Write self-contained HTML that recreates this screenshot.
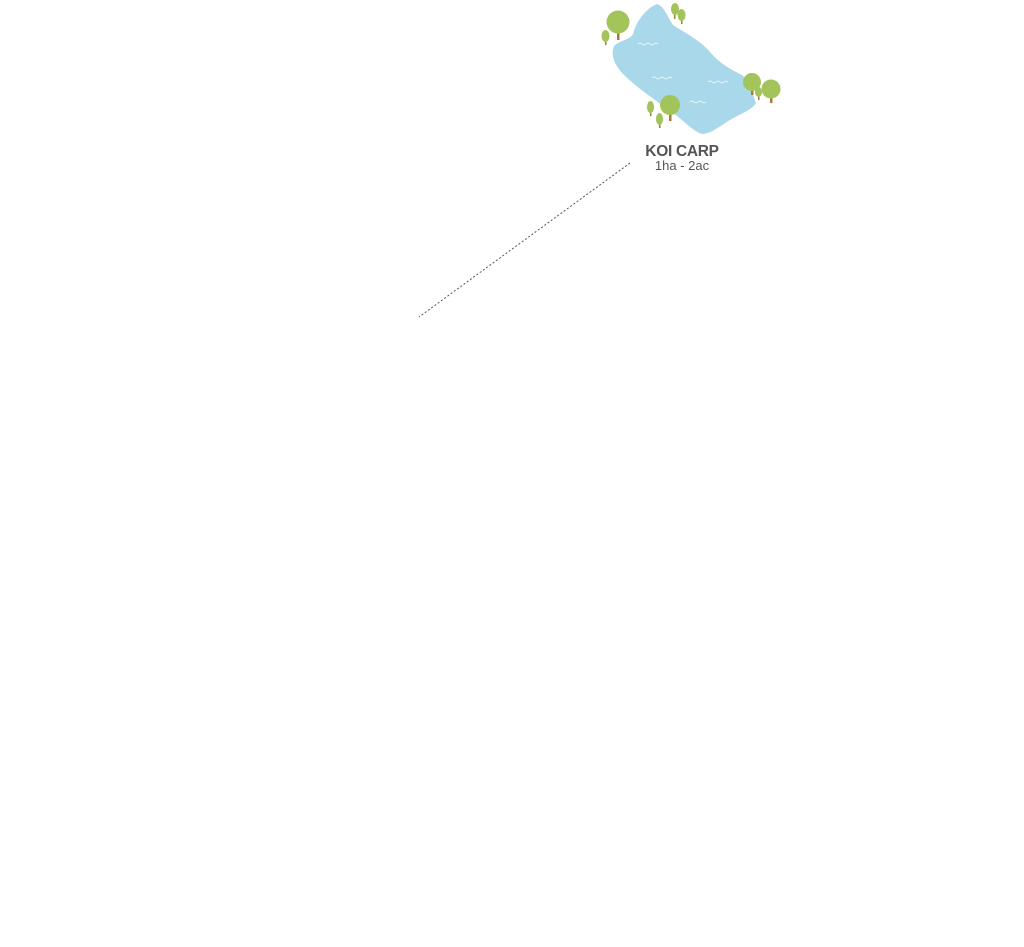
<!DOCTYPE html>
<html><head><meta charset="utf-8"><style>
html,body{margin:0;padding:0;background:#fff;}
body{width:1024px;height:947px;overflow:hidden;position:relative;}
svg{position:absolute;left:0;top:0;}
</style></head><body>
<svg width="1024" height="947" viewBox="0 0 1024 947">
<line x1="630" y1="163" x2="419" y2="317" stroke="#555" stroke-width="1" stroke-dasharray="2,2"/>
<path d="M657,4 C664,6 667,16 673,25 C685,33 700,40 710,52 C720,64 732,70 742,75 C750,82 752,92 756,103 C752,110 740,114 730,120 C720,126 712,133 703,134 C695,133 685,122 672,112 C655,100 640,90 625,76 C615,66 610,56 614,46 C620,40 630,40 633,34 C636,22 646,8 657,4 Z" fill="#a8d8ea"/>
<g stroke="#fff" stroke-width="0.8" fill="none" opacity="0.9">
<path d="M638,44 q2,-2 4,0 q2,2 4,0 q2,-2 4,0 q2,2 4,0 q2,-2 4,0"/>
<path d="M652,78 q2,-2 4,0 q2,2 4,0 q2,-2 4,0 q2,2 4,0 q2,-2 4,0"/>
<path d="M708,82 q2,-2 4,0 q2,2 4,0 q2,-2 4,0 q2,2 4,0 q2,-2 4,0"/>
<path d="M690,102 q2,-2 4,0 q2,2 4,0 q2,-2 4,0 q2,2 4,0"/>
</g>
<g fill="#a3c45a">
<rect x="617" y="24" width="2.5" height="16" fill="#a87b3a"/><circle cx="618" cy="22" r="11.5"/>
<rect x="605" y="36" width="1.5" height="9" fill="#a87b3a"/><ellipse cx="605.5" cy="36" rx="4" ry="6"/>
<rect x="674" y="10" width="1.5" height="9" fill="#a87b3a"/><ellipse cx="675" cy="9" rx="4" ry="6"/>
<rect x="681" y="15" width="1.5" height="9" fill="#a87b3a"/><ellipse cx="681.5" cy="15" rx="4" ry="6"/>
<rect x="751" y="83" width="2.5" height="12" fill="#a87b3a"/><circle cx="752" cy="82" r="9"/>
<rect x="770" y="90" width="2.5" height="13" fill="#a87b3a"/><circle cx="771" cy="89" r="9.5"/>
<rect x="758" y="92" width="1.5" height="8" fill="#a87b3a"/><ellipse cx="758.5" cy="92" rx="3.5" ry="5"/>
<rect x="669" y="107" width="2.5" height="14" fill="#a87b3a"/><circle cx="670" cy="105" r="10"/>
<rect x="650" y="108" width="1.5" height="8" fill="#a87b3a"/><ellipse cx="650.5" cy="107" rx="3.5" ry="6"/>
<rect x="659" y="120" width="1.5" height="8" fill="#a87b3a"/><ellipse cx="659.5" cy="119" rx="3.5" ry="6"/>
</g>
<text x="682" y="156" text-anchor="middle" font-family="Liberation Sans, sans-serif" font-weight="bold" font-size="15.5" fill="#555" letter-spacing="-0.3">KOI CARP</text>
<text x="682" y="170" text-anchor="middle" font-family="Liberation Sans, sans-serif" font-size="13" fill="#555">1ha - 2ac</text>
</svg>
</body></html>
